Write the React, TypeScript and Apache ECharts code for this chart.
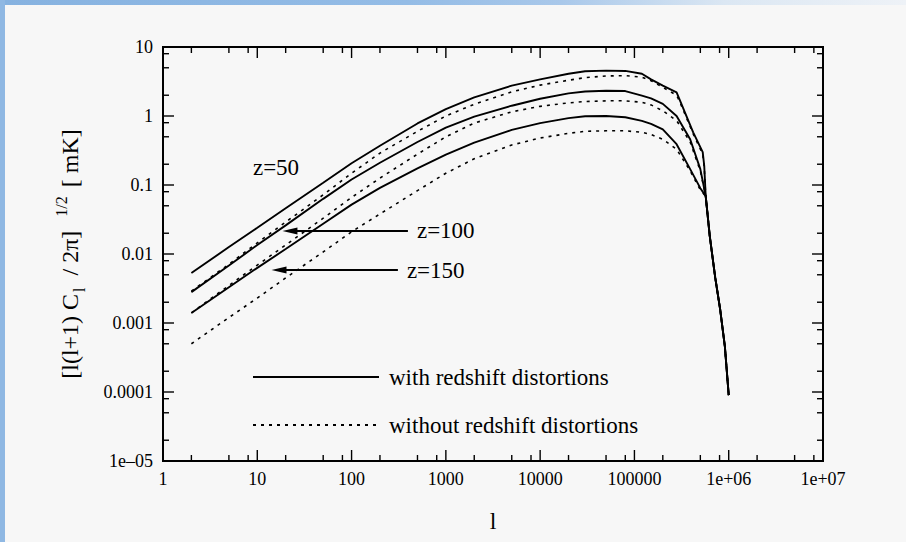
import React, { useEffect, useRef } from 'react';
import * as echarts from 'echarts';

// Multipole grid shared by all curves on the rising part of the spectrum
const ELL_RISE = [2, 5, 10, 20, 50, 100, 200, 500, 1000, 2000, 5000, 1e4, 2e4, 3e4, 5e4, 8e4, 1.2e5, 1.5e5, 2e5];

// [l(l+1) C_l / 2π]^(1/2) in mK on ELL_RISE
const Z50_WITH = [0.0053, 0.0126, 0.024, 0.046, 0.108, 0.207, 0.37, 0.78, 1.26, 1.86, 2.75, 3.4, 4.1, 4.45, 4.55, 4.5, 4.1, 3.4, 2.75];
const Z50_WITHOUT = [0.0029, 0.0071, 0.0145, 0.029, 0.072, 0.148, 0.29, 0.6, 1.0, 1.48, 2.24, 2.8, 3.3, 3.6, 3.8, 3.85, 3.65, 3.25, 2.6];
const Z100_WITH = [0.0028, 0.0068, 0.0135, 0.026, 0.063, 0.12, 0.21, 0.42, 0.68, 0.98, 1.41, 1.78, 2.13, 2.26, 2.32, 2.3, 1.97, 1.8, 1.5];
const Z100_WITHOUT = [0.0014, 0.0035, 0.0069, 0.0135, 0.033, 0.066, 0.126, 0.28, 0.5, 0.79, 1.15, 1.38, 1.55, 1.62, 1.66, 1.66, 1.58, 1.45, 1.19];
const Z150_WITH = [0.0014, 0.0033, 0.0063, 0.0118, 0.0275, 0.052, 0.091, 0.174, 0.275, 0.41, 0.63, 0.79, 0.93, 0.99, 1.0, 0.96, 0.85, 0.77, 0.64];
const Z150_WITHOUT = [0.0005, 0.0012, 0.0023, 0.0045, 0.0107, 0.021, 0.038, 0.083, 0.148, 0.24, 0.38, 0.48, 0.56, 0.6, 0.61, 0.61, 0.58, 0.54, 0.46];

// Fall-off of each curve down to the common damping point
const Z50_DROP_L = [2.8e5, 3e5, 4.2e5, 5.3e5, 5.5e5, 5.7e5];
const Z50_WITH_DROP = [2.2, 1.75, 0.58, 0.3, 0.19, 0.069];
const Z50_WITHOUT_DROP = [2.0, 1.65, 0.55, 0.28, 0.18, 0.069];
const Z100_150_DROP_L = [2.8e5, 3.9e5, 5e5, 5.7e5];
const Z100_WITH_DROP = [1.0, 0.46, 0.17, 0.069];
const Z100_WITHOUT_DROP = [0.86, 0.42, 0.16, 0.069];
const Z150_WITH_DROP = [0.39, 0.17, 0.09, 0.069];
const Z150_WITHOUT_DROP = [0.33, 0.16, 0.085, 0.069];

// Common steep damping tail
const TAIL_L = [6.3e5, 7.2e5, 8.1e5, 9.1e5, 1e6];
const TAIL_V = [0.018, 0.0045, 0.0016, 0.00046, 0.00009];

// Axis ticks and labels
const X_MIN = 1;
const X_MAX = 1e7;
const Y_MIN = 1e-5;
const Y_MAX = 10;
const X_DECADES = [1, 10, 100, 1000, 1e4, 1e5, 1e6, 1e7];
const Y_DECADES = [1e-5, 1e-4, 1e-3, 1e-2, 0.1, 1, 10];
const X_TICK_LABELS = ['1', '10', '100', '1000', '10000', '100000', '1e+06', '1e+07'];
const Y_TICK_LABELS = ['1e\u201305', '0.0001', '0.001', '0.01', '0.1', '1', '10'];
const MINOR_STEPS = [2, 5, 8];

const WITH_NAME = 'with redshift distortions';
const WITHOUT_NAME = 'without redshift distortions';
const SERIF = 'Liberation Serif, Times New Roman, serif';

const buildCurve = (rise: number[], dropL: number[], drop: number[]) => [
  ...ELL_RISE.map((l, i) => [l, rise[i]]),
  ...dropL.map((l, i) => [l, drop[i]]),
  ...TAIL_L.map((l, i) => [l, TAIL_V[i]]),
];

const tickList = (decades: number[]) => [
  ...decades.map((d) => [d, 1]),
  ...decades.slice(0, -1).flatMap((d) => MINOR_STEPS.map((s) => [d * s, 0])),
];

const MAJOR_LEN = 11;
const MINOR_LEN = 6;
const TICK_STYLE = { stroke: '#000', lineWidth: 1.4 };

const solid = { color: '#000', width: 1.9, type: 'solid' as const };
const dotted = { color: '#000', width: 1.6, type: [3, 5] as number[] };

export default function App() {
  const ref = useRef<HTMLDivElement>(null);

  useEffect(() => {
    if (!ref.current) return;
    const chart = echarts.init(ref.current, null, { renderer: 'svg' });

    const lineSeries = (name: string, data: number[][], style: any, extra: any = {}) => ({
      type: 'line',
      name,
      data,
      symbol: 'none',
      showSymbol: false,
      smooth: false,
      lineStyle: style,
      itemStyle: { color: '#000' },
      z: 2,
      ...extra,
    });

    const arrowLabel = {
      show: true,
      position: 'end',
      distance: 9,
      color: '#000',
      fontSize: 23,
      fontFamily: SERIF,
    };

    const option: any = {
      animation: false,
      backgroundColor: 'transparent',
      grid: {
        left: 163,
        right: 83,
        top: 47,
        bottom: 81,
        show: true,
        borderColor: '#000',
        borderWidth: 2,
        backgroundColor: 'transparent',
      },
      legend: {
        data: [WITH_NAME, WITHOUT_NAME],
        orient: 'vertical',
        left: 252,
        top: 365,
        padding: 0,
        itemWidth: 126,
        itemHeight: 12,
        itemGap: 24,
        selectedMode: false,
        itemStyle: { opacity: 0 },
        textStyle: { color: '#000', fontSize: 23, fontFamily: SERIF, lineHeight: 24, padding: [0, 0, 0, 5] },
      },
      xAxis: {
        type: 'log',
        logBase: 10,
        min: X_MIN,
        max: X_MAX,
        name: 'l',
        nameLocation: 'middle',
        nameGap: 48,
        nameTextStyle: { color: '#000', fontSize: 24, fontFamily: SERIF },
        axisLine: { show: false },
        axisTick: { show: false },
        splitLine: { show: false },
        axisLabel: {
          color: '#000',
          fontSize: 18,
          fontFamily: SERIF,
          margin: 9,
          formatter: (v: number) => X_TICK_LABELS[Math.round(Math.log10(v))] ?? '',
        },
      },
      yAxis: {
        type: 'log',
        logBase: 10,
        min: Y_MIN,
        max: Y_MAX,
        name: '{a|[l(l+1) C}{sub|l}{a| / 2\u03c0]}{sup|1/2}{a|[ mK]}',
        nameLocation: 'middle',
        nameRotate: 90,
        nameGap: 76,
        nameTextStyle: {
          color: '#000',
          rich: {
            a: { fontSize: 24, fontFamily: SERIF, color: '#000', lineHeight: 34 },
            sub: { fontSize: 16, fontFamily: SERIF, color: '#000', lineHeight: 18, verticalAlign: 'bottom', padding: [0, 6, 0, 2] },
            sup: { fontSize: 16, fontFamily: SERIF, color: '#000', lineHeight: 18, verticalAlign: 'top', padding: [0, 9, 0, 14] },
          },
        },
        axisLine: { show: false },
        axisTick: { show: false },
        splitLine: { show: false },
        axisLabel: {
          color: '#000',
          fontSize: 18,
          fontFamily: SERIF,
          margin: 10,
          formatter: (v: number) => Y_TICK_LABELS[Math.round(Math.log10(v)) + 5] ?? '',
        },
      },
      series: [
        lineSeries(WITH_NAME, buildCurve(Z50_WITH, Z50_DROP_L, Z50_WITH_DROP), solid, {
          markPoint: {
            silent: true,
            symbol: 'rect',
            symbolSize: 1,
            itemStyle: { color: 'rgba(0,0,0,0)' },
            label: { show: true, position: 'inside', color: '#000', fontSize: 23, fontFamily: SERIF, formatter: 'z=50' },
            data: [{ coord: [15.8, 0.182] }],
          },
          markLine: {
            silent: true,
            symbol: ['triangle', 'none'],
            lineStyle: { color: '#000', width: 1.8, type: 'solid' },
            data: [
              [
                { coord: [22.2, 0.0216], symbol: 'triangle', symbolSize: [7, 15] },
                { coord: [396, 0.0216], symbol: 'none', label: { ...arrowLabel, formatter: 'z=100' } },
              ],
              [
                { coord: [17.0, 0.00586], symbol: 'triangle', symbolSize: [7, 15] },
                { coord: [310, 0.00586], symbol: 'none', label: { ...arrowLabel, formatter: 'z=150' } },
              ],
            ],
          },
        }),
        lineSeries(WITHOUT_NAME, buildCurve(Z50_WITHOUT, Z50_DROP_L, Z50_WITHOUT_DROP), dotted),
        lineSeries(WITH_NAME, buildCurve(Z100_WITH, Z100_150_DROP_L, Z100_WITH_DROP), solid),
        lineSeries(WITHOUT_NAME, buildCurve(Z100_WITHOUT, Z100_150_DROP_L, Z100_WITHOUT_DROP), dotted),
        lineSeries(WITH_NAME, buildCurve(Z150_WITH, Z100_150_DROP_L, Z150_WITH_DROP), solid),
        lineSeries(WITHOUT_NAME, buildCurve(Z150_WITHOUT, Z100_150_DROP_L, Z150_WITHOUT_DROP), dotted),
        {
          type: 'custom',
          name: 'x ticks',
          silent: true,
          clip: false,
          z: 3,
          encode: { x: 0, y: 1 },
          data: tickList(X_DECADES).map(([v, major]) => [v, 1, major]),
          renderItem: (_p: any, api: any) => {
            const v = api.value(0);
            const len = api.value(2) === 1 ? MAJOR_LEN : MINOR_LEN;
            const b = api.coord([v, Y_MIN]);
            const t = api.coord([v, Y_MAX]);
            return {
              type: 'group',
              children: [
                { type: 'line', shape: { x1: b[0], y1: b[1], x2: b[0], y2: b[1] - len }, style: TICK_STYLE },
                { type: 'line', shape: { x1: t[0], y1: t[1], x2: t[0], y2: t[1] + len }, style: TICK_STYLE },
              ],
            };
          },
        },
        {
          type: 'custom',
          name: 'y ticks',
          silent: true,
          clip: false,
          z: 3,
          encode: { x: 0, y: 1 },
          data: tickList(Y_DECADES).map(([v, major]) => [10, v, major]),
          renderItem: (_p: any, api: any) => {
            const v = api.value(1);
            const len = api.value(2) === 1 ? MAJOR_LEN : MINOR_LEN;
            const l = api.coord([X_MIN, v]);
            const r = api.coord([X_MAX, v]);
            return {
              type: 'group',
              children: [
                { type: 'line', shape: { x1: l[0], y1: l[1], x2: l[0] + len, y2: l[1] }, style: TICK_STYLE },
                { type: 'line', shape: { x1: r[0], y1: r[1], x2: r[0] - len, y2: r[1] }, style: TICK_STYLE },
              ],
            };
          },
        },
      ],
    };

    chart.setOption(option);
    return () => chart.dispose();
  }, []);

  return (
    <div style={{ position: 'fixed', left: 0, top: 0, width: 906, height: 542, background: '#f7f7f7', overflow: 'hidden' }}>
      <div
        style={{
          position: 'absolute',
          left: 0,
          top: 0,
          width: 906,
          height: 5,
          background: 'linear-gradient(90deg, #86b2e0 0%, #94bce6 45%, #a9c8ea 62%, #dbe7f3 80%, #eef2f7 100%)',
        }}
      />
      <div style={{ position: 'absolute', left: 0, top: 0, width: 5, height: 542, background: '#8fb8e3' }} />
      <div ref={ref} style={{ position: 'absolute', left: 0, top: 0, width: 906, height: 542 }} />
    </div>
  );
}
